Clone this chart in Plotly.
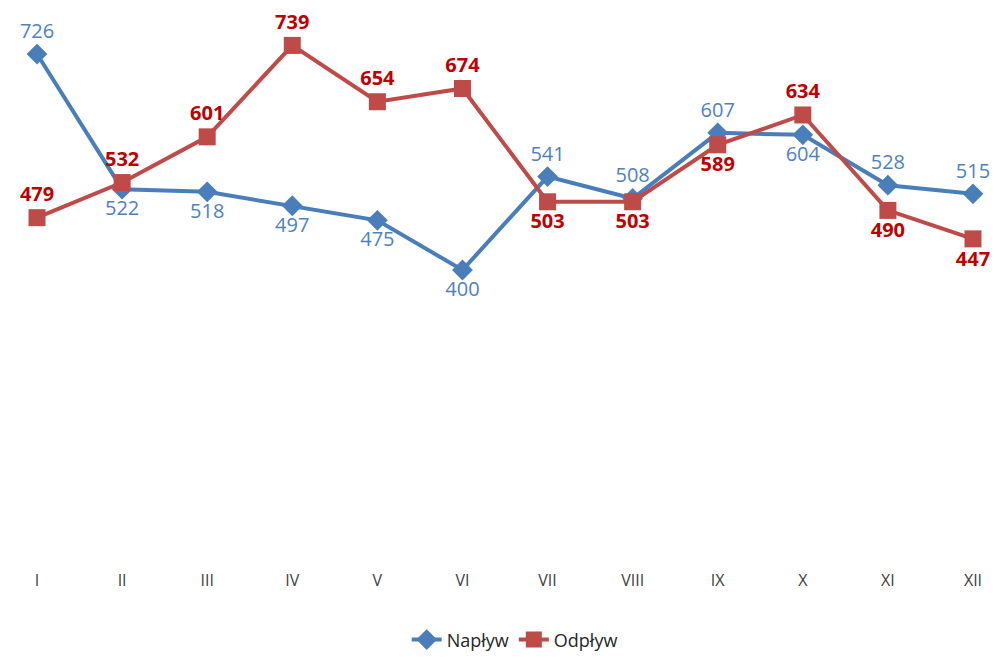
import plotly.graph_objects as go

miesiace = ['I', 'II', 'III', 'IV', 'V', 'VI', 'VII', 'VIII', 'IX', 'X', 'XI', 'XII']
naplyw = [726, 522, 518, 497, 475, 400, 541, 508, 607, 604, 528, 515]
odplyw = [479, 532, 601, 739, 654, 674, 503, 503, 589, 634, 490, 447]

# położenie etykiet (nad / pod punktem)
poz_naplyw = ['top center', 'bottom center', 'bottom center', 'bottom center', 'bottom center',
              'bottom center', 'top center', 'top center', 'top center', 'bottom center',
              'top center', 'top center']
poz_odplyw = ['top center', 'top center', 'top center', 'top center', 'top center', 'top center',
              'bottom center', 'bottom center', 'bottom center', 'top center',
              'bottom center', 'bottom center']

NIEBIESKI = '#4A7EBB'
CZERWONY = '#BE4B48'

fig = go.Figure()
fig.add_trace(go.Scatter(
    x=miesiace, y=naplyw, name='Napływ', mode='lines+markers+text',
    line=dict(color=NIEBIESKI, width=4),
    marker=dict(symbol='diamond', size=16, color=NIEBIESKI),
    text=[str(v) for v in naplyw], textposition=poz_naplyw,
    textfont=dict(color='#4F81BD', size=20, family='Open Sans'),
    cliponaxis=False,
))
fig.add_trace(go.Scatter(
    x=miesiace, y=odplyw, name='Odpływ', mode='lines+markers+text',
    line=dict(color=CZERWONY, width=4),
    marker=dict(symbol='square', size=17, color=CZERWONY),
    text=['<b>%d</b>' % v for v in odplyw], textposition=poz_odplyw,
    textfont=dict(color='#C00000', size=20, family='Open Sans'),
    cliponaxis=False,
))

fig.update_layout(
    width=995, height=657,
    margin=dict(l=20, r=5, t=5, b=95, autoexpand=False),
    paper_bgcolor='white', plot_bgcolor='white',
    font=dict(family='Open Sans', color='#404040'),
    xaxis=dict(range=[-0.2, 11.2], showgrid=False, showline=False, zeroline=False,
               ticks='outside', ticklen=4, tickcolor='rgba(0,0,0,0)',
               tickfont=dict(size=16, color='#404040'), automargin=False),
    yaxis=dict(range=[-40.7, 800], visible=False),
    showlegend=True,
    legend=dict(orientation='h', x=0.51, xanchor='center', yref='container',
                y=0.026, yanchor='middle', font=dict(size=18, color='#262626')),
)

# bez marginesu strony, żeby wykres zajmował całe okno
fig.write_html("out.html", config={'displayModeBar': False},
               post_script="document.body.style.margin='0';document.body.style.overflow='hidden';")
